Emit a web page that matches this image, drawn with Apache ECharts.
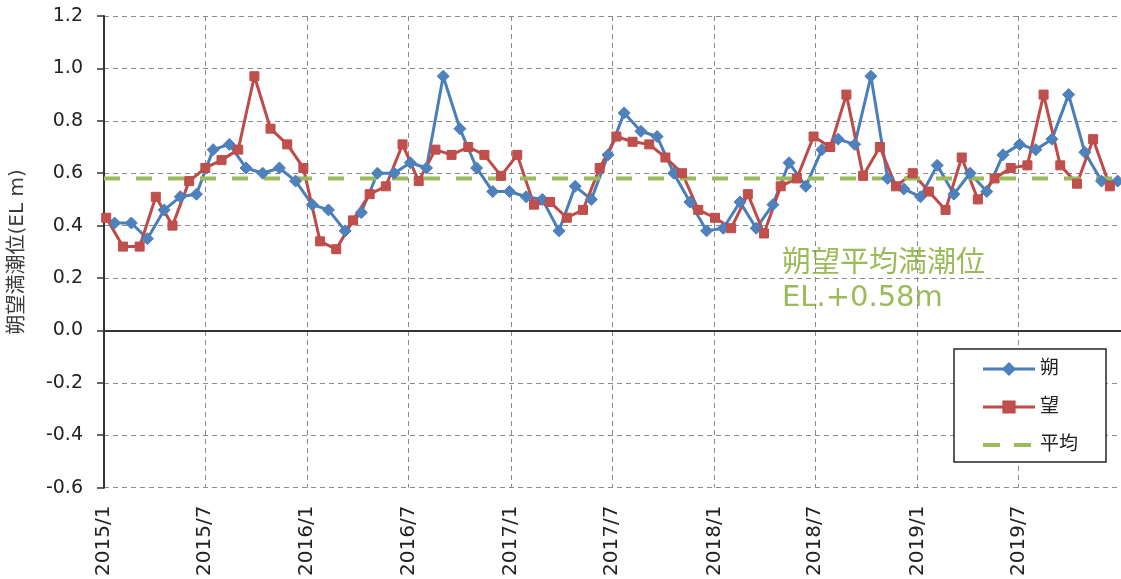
<!DOCTYPE html>
<html>
<head>
<meta charset="utf-8">
<title>朔望満潮位</title>
<script src="https://cdn.jsdelivr.net/npm/echarts@6/dist/echarts.min.js"></script>
<style>
  html, body { margin: 0; padding: 0; background: #fff; }
  #chart { width: 1121px; height: 579px; }
</style>
</head>
<body>
<div id="chart"></div>
<script>
// 朔 (new moon) high-water observations
const NEW_MOON_DATES = [
  '2015-01-20','2015-02-19','2015-03-20','2015-04-19','2015-05-18','2015-06-16',
  '2015-07-16','2015-08-14','2015-09-13','2015-10-13','2015-11-12','2015-12-11',
  '2016-01-10','2016-02-08','2016-03-09','2016-04-07','2016-05-06','2016-06-05',
  '2016-07-04','2016-08-02','2016-09-01','2016-10-01','2016-10-31','2016-11-29','2016-12-29',
  '2017-01-28','2017-02-26','2017-03-28','2017-04-26','2017-05-25','2017-06-24',
  '2017-07-23','2017-08-22','2017-09-20','2017-10-20','2017-11-18','2017-12-18',
  '2018-01-17','2018-02-16','2018-03-17','2018-04-16','2018-05-15','2018-06-14',
  '2018-07-13','2018-08-11','2018-09-10','2018-10-09','2018-11-08','2018-12-07',
  '2019-01-06','2019-02-05','2019-03-07','2019-04-05','2019-05-05','2019-06-03',
  '2019-07-03','2019-08-01','2019-08-30','2019-09-29','2019-10-28','2019-11-27','2019-12-26'
];
const NEW_MOON_LEVELS = [
  0.41, 0.41, 0.35, 0.46, 0.51, 0.52, 0.69, 0.71, 0.62, 0.60, 0.62, 0.57,
  0.48, 0.46, 0.38, 0.45, 0.60, 0.60, 0.64, 0.62, 0.97, 0.77, 0.62, 0.53, 0.53,
  0.51, 0.50, 0.38, 0.55, 0.50, 0.67, 0.83, 0.76, 0.74, 0.60, 0.49, 0.38,
  0.39, 0.49, 0.39, 0.48, 0.64, 0.55, 0.69, 0.73, 0.71, 0.97, 0.58, 0.54,
  0.51, 0.63, 0.52, 0.60, 0.53, 0.67, 0.71, 0.69, 0.73, 0.90, 0.68, 0.57, 0.57
];

// 望 (full moon) high-water observations
const FULL_MOON_DATES = [
  '2015-01-05','2015-02-04','2015-03-06','2015-04-04','2015-05-04','2015-06-03','2015-07-02',
  '2015-07-31','2015-08-30','2015-09-28','2015-10-27','2015-11-26','2015-12-25',
  '2016-01-24','2016-02-22','2016-03-23','2016-04-22','2016-05-21','2016-06-20',
  '2016-07-19','2016-08-18','2016-09-16','2016-10-16','2016-11-14','2016-12-14',
  '2017-01-12','2017-02-11','2017-03-12','2017-04-11','2017-05-10','2017-06-09',
  '2017-07-09','2017-08-07','2017-09-06','2017-10-05','2017-11-04','2017-12-03',
  '2018-01-02','2018-01-31','2018-03-02','2018-03-31','2018-04-30','2018-05-29','2018-06-28',
  '2018-07-28','2018-08-26','2018-09-25','2018-10-25','2018-11-23','2018-12-23',
  '2019-01-21','2019-02-20','2019-03-21','2019-04-19','2019-05-19','2019-06-17',
  '2019-07-17','2019-08-15','2019-09-14','2019-10-14','2019-11-12','2019-12-12'
];
const FULL_MOON_LEVELS = [
  0.43, 0.32, 0.32, 0.51, 0.40, 0.57, 0.62, 0.65, 0.69, 0.97, 0.77, 0.71, 0.62,
  0.34, 0.31, 0.42, 0.52, 0.55, 0.71, 0.57, 0.69, 0.67, 0.70, 0.67, 0.59,
  0.67, 0.48, 0.49, 0.43, 0.46, 0.62, 0.74, 0.72, 0.71, 0.66, 0.60, 0.46,
  0.43, 0.39, 0.52, 0.37, 0.55, 0.58, 0.74, 0.70, 0.90, 0.59, 0.70, 0.55, 0.60,
  0.53, 0.46, 0.66, 0.50, 0.58, 0.62, 0.63, 0.90, 0.63, 0.56, 0.73, 0.55
];

// 朔望平均満潮位
const AVERAGE = 0.58;

const SERIES_NAMES = ['朔', '望', '平均'];
const X_START = '2015-01-01';
const X_END = '2020-01-01';
const Y_MIN = -0.6, Y_MAX = 1.2, Y_STEP = 0.2;
const Y_TITLE = '朔望満潮位(EL m)';
const NOTE_TITLE = '朔望平均満潮位';

const BLUE = '#4A7EBB', RED = '#BE4B48', GREEN = '#9BBB59';
const LATIN_FONT = "'DejaVu Sans', 'Noto Sans CJK JP', sans-serif";
const HALF_YEAR = 365 * 24 * 3600 * 1000 / 2;

const pairs = (dates, values) => dates.map((d, i) => [d, values[i]]);

const chart = echarts.init(document.getElementById('chart'));
chart.setOption({
  animation: false,
  backgroundColor: '#fff',
  grid: { left: 102, top: 16, bottom: 91, right: -6 },
  legend: {
    data: [
      { name: SERIES_NAMES[0], lineStyle: { width: 3 } },
      { name: SERIES_NAMES[1], lineStyle: { width: 3 } },
      {
        name: SERIES_NAMES[2],
        itemStyle: { opacity: 0 },
        lineStyle: { color: GREEN, width: 4, type: [17, 14] }
      }
    ],
    orient: 'vertical',
    left: 954,
    top: 349,
    padding: [10, 28, 7, 27],
    itemWidth: 52,
    itemHeight: 14,
    itemGap: 18,
    backgroundColor: '#fff',
    borderColor: '#262626',
    borderWidth: 1.5,
    textStyle: { fontSize: 19, color: '#222', fontFamily: LATIN_FONT, lineHeight: 20 }
  },
  xAxis: {
    type: 'time',
    min: X_START,
    max: X_END,
    minInterval: HALF_YEAR,
    maxInterval: HALF_YEAR,
    axisLine: { lineStyle: { color: '#333', width: 2 } },
    axisTick: { show: false },
    axisLabel: {
      rotate: 90,
      margin: 18,
      fontSize: 20,
      color: '#222',
      fontFamily: LATIN_FONT,
      showMaxLabel: false,
      formatter: (val) => {
        const d = new Date(val);
        return d.getFullYear() + '/' + (d.getMonth() + 1);
      }
    },
    splitLine: { show: true, lineStyle: { color: '#8a8a8a', type: [5, 4], width: 1 } }
  },
  yAxis: {
    type: 'value',
    min: Y_MIN,
    max: Y_MAX,
    interval: Y_STEP,
    name: Y_TITLE,
    nameLocation: 'middle',
    nameGap: 76,
    nameTextStyle: { fontSize: 20, color: '#3a3a3a', fontFamily: LATIN_FONT },
    axisLine: { show: true, lineStyle: { color: '#333', width: 2 } },
    axisTick: { show: true, length: 7, lineStyle: { color: '#333', width: 1.5 } },
    axisLabel: {
      margin: 21,
      fontSize: 19,
      color: '#222',
      fontFamily: LATIN_FONT,
      formatter: (v) => v.toFixed(1)
    },
    splitLine: { show: true, lineStyle: { color: '#8a8a8a', type: [5, 4], width: 1 } }
  },
  graphic: [
    {
      type: 'text',
      left: 782,
      top: 250,
      style: { text: NOTE_TITLE, fill: GREEN, fontSize: 29, fontFamily: LATIN_FONT }
    },
    {
      type: 'text',
      left: 782,
      top: 284,
      style: { text: 'EL.+' + AVERAGE.toFixed(2) + 'm', fill: GREEN, fontSize: 29, fontFamily: LATIN_FONT }
    }
  ],
  series: [
    {
      name: SERIES_NAMES[0],
      type: 'line',
      data: pairs(NEW_MOON_DATES, NEW_MOON_LEVELS),
      symbol: 'diamond',
      symbolSize: 12,
      showAllSymbol: true,
      lineStyle: { color: BLUE, width: 3 },
      itemStyle: { color: '#4F81BD', borderColor: BLUE, borderWidth: 1 }
    },
    {
      name: SERIES_NAMES[1],
      type: 'line',
      data: pairs(FULL_MOON_DATES, FULL_MOON_LEVELS),
      symbol: 'rect',
      symbolSize: 9,
      showAllSymbol: true,
      lineStyle: { color: RED, width: 3 },
      itemStyle: { color: '#C0504D', borderColor: RED, borderWidth: 1 }
    },
    {
      name: SERIES_NAMES[2],
      type: 'line',
      data: [[X_START, AVERAGE], [X_END, AVERAGE]],
      symbol: 'none',
      lineStyle: { color: GREEN, width: 4, type: [16, 16] },
      itemStyle: { color: GREEN }
    }
  ]
});
</script>
</body>
</html>
